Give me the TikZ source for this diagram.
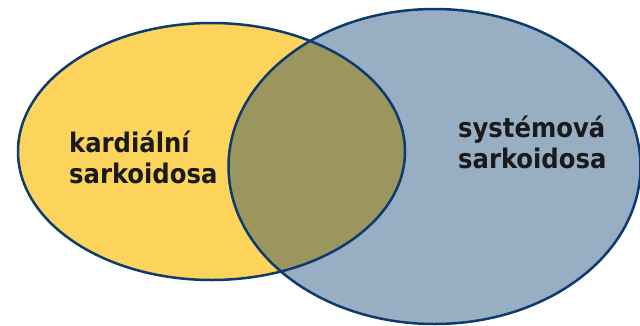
\documentclass[tikz,border=0pt]{standalone}
\usepackage{fontspec}
\setsansfont{DejaVu Sans Condensed}
\definecolor{setyellow}{HTML}{FDD45B}
\definecolor{setblue}{HTML}{98AEC3}
\definecolor{setolive}{HTML}{9B955E}
\definecolor{setedge}{HTML}{0D3B6E}
\definecolor{settext}{HTML}{1A1A1A}
\begin{document}
\begin{tikzpicture}[x=1pt,y=-1pt,
  outline/.style={draw=setedge,line width=2.5pt},
  setlabel/.style={font=\sffamily\bfseries\fontsize{27}{31.5}\selectfont,text=settext,align=left,inner sep=0pt,anchor=base west}]
\useasboundingbox (0,0) rectangle (640,325);
\fill[setyellow] (211.5,151.5) ellipse [x radius=193.5,y radius=128.5];
\fill[setblue] (434.5,166.5) ellipse [x radius=206,y radius=157.5];
\begin{scope}
  \clip (211.5,151.5) ellipse [x radius=193.5,y radius=128.5];
  \fill[setolive] (434.5,166.5) ellipse [x radius=206,y radius=157.5];
\end{scope}
\draw[outline] (211.5,151.5) ellipse [x radius=193.5,y radius=128.5];
\draw[outline] (434.5,166.5) ellipse [x radius=206,y radius=157.5];
\node[setlabel] (kard) at (69,183.5) {kardiální\\sarkoidosa};
\node[setlabel] (syst) at (458,168.5) {systémová\\sarkoidosa};
\end{tikzpicture}
\end{document}
